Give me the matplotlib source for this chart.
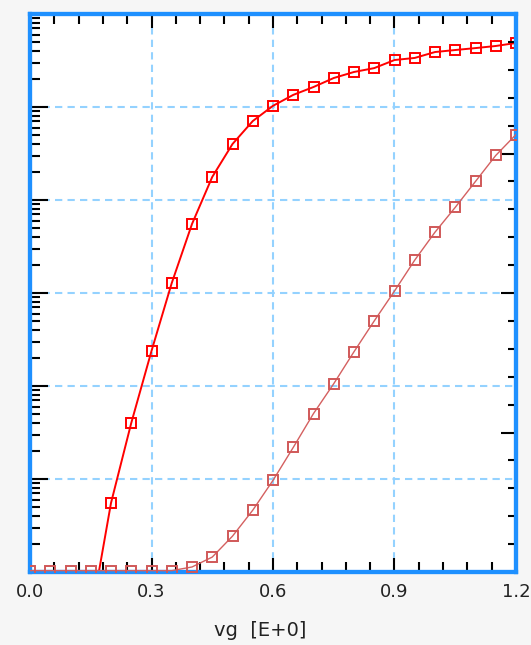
import matplotlib
matplotlib.use("Agg")
import matplotlib.pyplot as plt
from matplotlib.ticker import MultipleLocator, LogLocator, NullFormatter

# gate voltage sweep
vg = [0.00, 0.05, 0.10, 0.15, 0.20, 0.25, 0.30, 0.35, 0.40, 0.45, 0.50, 0.55, 0.60,
      0.65, 0.70, 0.75, 0.80, 0.85, 0.90, 0.95, 1.00, 1.05, 1.10, 1.15, 1.20]

# drain current, log axis (left)
id_log = [1e-13, 1e-13, 1e-13, 3.2e-13, 5.52e-12, 4.0e-11, 2.38e-10, 1.28e-9, 5.52e-9,
          1.77e-8, 4.0e-8, 7.06e-8, 1.03e-7, 1.35e-7, 1.64e-7, 2.05e-7, 2.38e-7,
          2.62e-7, 3.2e-7, 3.37e-7, 3.9e-7, 4.1e-7, 4.3e-7, 4.53e-7, 4.88e-7]

# drain current, linear axis (right)
id_lin = [0.01, 0.01, 0.01, 0.01, 0.01, 0.01, 0.01, 0.01, 0.036, 0.107, 0.257, 0.443,
          0.657, 0.893, 1.136, 1.35, 1.579, 1.80, 2.014, 2.236, 2.436, 2.614, 2.80,
          2.986, 3.136]

FRAME = "#1e90ff"
GRID = "#94d2ff"

fig = plt.figure(figsize=(5.31, 6.45), dpi=100, facecolor="#f6f6f6")
ax = fig.add_axes([30 / 531, 1 - 572 / 645, 486 / 531, 558 / 645])
ax.set_facecolor("white")

ax.set_yscale("log")
ax.set_xlim(0, 1.2)
ax.set_ylim(1e-12, 1e-6)

ax.xaxis.set_major_locator(MultipleLocator(0.3))
ax.xaxis.set_minor_locator(MultipleLocator(0.06))
ax.xaxis.set_major_formatter(plt.FuncFormatter(lambda v, p: f"{v:.1f}"))
ax.yaxis.set_major_locator(LogLocator(base=10, numticks=20))
ax.yaxis.set_minor_locator(LogLocator(base=10, subs=range(2, 10), numticks=20))
ax.yaxis.set_major_formatter(NullFormatter())
ax.yaxis.set_minor_formatter(NullFormatter())

ax.grid(True, which="major", color=GRID, linestyle=(0, (3.5, 2.5)), linewidth=1.5)
ax.set_axisbelow(True)

ax.tick_params(axis="x", which="both", direction="in", top=True, bottom=True,
               color="black", width=1.5, labelsize=13, labelcolor="#222222", pad=8)
ax.tick_params(axis="x", which="major", length=10)
ax.tick_params(axis="x", which="minor", length=7)
ax.tick_params(axis="y", which="both", direction="in", left=True, right=False,
               color="black", width=1.5)
ax.tick_params(axis="y", which="major", length=13)
ax.tick_params(axis="y", which="minor", length=7)

ax.plot(vg, id_log, color="#ff0000", linewidth=1.4, marker="s", markersize=7,
        markerfacecolor="none", markeredgecolor="#ff0000", markeredgewidth=1.4,
        zorder=3)

ax2 = ax.twinx()
ax2.set_ylim(0, 4)
ax2.yaxis.set_major_locator(MultipleLocator(1))
ax2.yaxis.set_minor_locator(MultipleLocator(0.2))
ax2.yaxis.set_major_formatter(NullFormatter())
ax2.tick_params(axis="y", which="both", direction="in", color="black", width=1.5)
ax2.tick_params(axis="y", which="major", length=11)
ax2.tick_params(axis="y", which="minor", length=6)
ax2.plot(vg, id_lin, color="#d46060", linewidth=1.0, marker="s", markersize=7,
         markerfacecolor="none", markeredgecolor="#d05858", markeredgewidth=1.4,
         zorder=3)

for a in (ax, ax2):
    for sp in a.spines.values():
        sp.set_color(FRAME)
        sp.set_linewidth(3)

ax.set_xlabel("vg  [E+0]", fontsize=14, color="#222222", labelpad=6)
ax.xaxis.set_label_coords(0.473, -0.087)

fig.savefig("out.png", dpi=100, facecolor=fig.get_facecolor())
